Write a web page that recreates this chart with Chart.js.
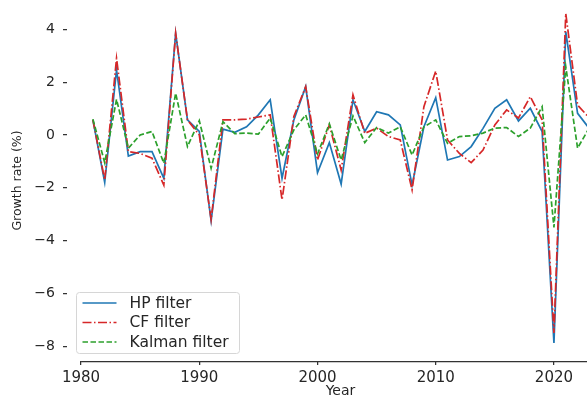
<!DOCTYPE html>
<html>
<head>
<meta charset="utf-8">
<script src="https://cdn.jsdelivr.net/npm/chart.js@4.4.1/dist/chart.umd.min.js"></script>
<style>
    html, body { margin: 0; padding: 0; background: #fff; }
    #wrap { width: 587px; height: 398px; overflow: hidden; }
</style>
</head>
<body>
<div id="wrap"><canvas id="filterChart" width="614" height="398"></canvas></div>
<script>
const years = [];
for (let y = 1981; y <= 2023; y++) years.push(y);

const hpFilter = [0.57, -1.80, 2.46, -0.80, -0.63, -0.63, -1.64, 3.85, 0.57, 0.13,
    -3.25, 0.22, 0.10, 0.31, 0.76, 1.33, -1.64, 0.57, 1.83, -1.43,
    -0.29, -1.86, 1.33, 0.13, 0.88, 0.76, 0.38, -1.90, 0.31, 1.41,
    -0.95, -0.82, -0.44, 0.25, 1.01, 1.33, 0.53, 1.01, 0.13, -7.88,
    3.91, 0.82, 0.24];

const cfFilter = [0.57, -1.70, 2.90, -0.63, -0.70, -0.88, -1.90, 3.85, 0.57, 0.00,
    -3.20, 0.57, 0.57, 0.60, 0.68, 0.76, -2.46, 0.70, 1.83, -0.95,
    0.38, -1.33, 1.52, 0.06, 0.26, -0.06, -0.19, -2.08, 1.07, 2.42,
    -0.19, -0.70, -1.05, -0.57, 0.38, 0.95, 0.64, 1.45, 0.57, -7.50,
    4.60, 1.13, 0.64];

const kalmanFilter = [0.60, -1.05, 1.35, -0.50, 0.00, 0.13, -1.07, 1.58, -0.44, 0.54,
    -1.26, 0.50, 0.05, 0.07, 0.03, 0.64, -0.82, 0.19, 0.76, -0.72,
    0.42, -0.95, 0.72, -0.29, 0.28, 0.07, 0.31, -0.76, 0.31, 0.57,
    -0.32, -0.06, -0.03, 0.07, 0.26, 0.28, -0.06, 0.26, 1.07, -3.50,
    2.59, -0.50, 0.28];

const xTicks = [1980, 1990, 2000, 2010, 2020];
const yTicks = [-8, -6, -4, -2, 0, 2, 4];

const textColor = "#262626";
const fontFamily = "'DejaVu Sans', sans-serif";

const toPoints = (vals) => vals.map((v, i) => ({ x: years[i], y: v }));

// bottom spine, starting at the first tick like the original
const spinePlugin = {
    id: "spine",
    afterDraw(chart) {
        const ctx = chart.ctx;
        const x = chart.scales.x;
        const y0 = chart.chartArea.bottom + 0.5;
        ctx.save();
        ctx.strokeStyle = "#333";
        ctx.lineWidth = 1.25;
        ctx.beginPath();
        ctx.moveTo(x.getPixelForValue(xTicks[0]), y0);
        ctx.lineTo(chart.chartArea.right, y0);
        ctx.stroke();
        ctx.restore();
    }
};

// matplotlib-like legend in the lower left corner
const legendPlugin = {
    id: "mplLegend",
    afterDraw(chart) {
        const ctx = chart.ctx;
        const area = chart.chartArea;
        const boxX = area.left + 9.5, boxW = 163, boxH = 61;
        const boxY = area.bottom - 7.5 - boxH;
        ctx.save();
        ctx.fillStyle = "rgba(255,255,255,0.85)";
        ctx.strokeStyle = "#d6d6d6";
        ctx.lineWidth = 1;
        ctx.beginPath();
        ctx.roundRect(boxX, boxY, boxW, boxH, 3);
        ctx.fill();
        ctx.stroke();
        ctx.font = "15.5px " + fontFamily;
        ctx.textBaseline = "middle";
        chart.data.datasets.forEach((ds, i) => {
            const rowY = boxY + 10.5 + i * 19.5;
            ctx.strokeStyle = ds.borderColor;
            ctx.lineWidth = 1.5;
            ctx.setLineDash(ds.borderDash || []);
            ctx.beginPath();
            ctx.moveTo(boxX + 6, rowY);
            ctx.lineTo(boxX + 40, rowY);
            ctx.stroke();
            ctx.setLineDash([]);
            ctx.fillStyle = textColor;
            ctx.fillText(ds.label, boxX + 53, rowY + 0.5);
        });
        ctx.restore();
    }
};

new Chart(document.getElementById("filterChart"), {
    type: "line",
    data: {
        datasets: [{
            label: "HP filter",
            data: toPoints(hpFilter),
            borderColor: "#1f77b4",
            borderWidth: 1.7,
            order: 2
        }, {
            label: "CF filter",
            data: toPoints(cfFilter),
            borderColor: "#d62728",
            borderWidth: 1.7,
            borderDash: [9, 2.5, 1.5, 2.5],
            order: 1
        }, {
            label: "Kalman filter",
            data: toPoints(kalmanFilter),
            borderColor: "#2ca02c",
            borderWidth: 1.7,
            borderDash: [5.5, 2.5],
            order: 0
        }]
    },
    options: {
        responsive: false,
        animation: false,
        events: [],
        layout: { padding: 0 },
        elements: {
            point: { radius: 0 },
            line: { tension: 0, fill: false }
        },
        plugins: {
            legend: { display: false },
            tooltip: { enabled: false }
        },
        scales: {
            x: {
                type: "linear",
                min: 1978.81,
                max: 2025.08,
                afterBuildTicks: (scale) => { scale.ticks = xTicks.map(v => ({ value: v })); },
                afterFit: (scale) => {
                    scale.height = 37;
                    scale.paddingLeft = 0;
                    scale.paddingRight = 0;
                },
                border: { display: false },
                grid: {
                    drawOnChartArea: false,
                    drawTicks: true,
                    tickLength: 4,
                    color: "#333",
                    lineWidth: 1.25
                },
                ticks: {
                    color: textColor,
                    font: { family: fontFamily, size: 15 },
                    padding: 4,
                    maxRotation: 0,
                    callback: (v) => String(v)
                },
                title: {
                    display: true,
                    text: "Year",
                    color: textColor,
                    font: { family: fontFamily, size: 14, lineHeight: 1 },
                    padding: 0
                }
            },
            y: {
                type: "linear",
                min: -8.56,
                max: 5.11,
                afterBuildTicks: (scale) => { scale.ticks = yTicks.map(v => ({ value: v })); },
                afterFit: (scale) => {
                    scale.width = 67;
                    scale.paddingTop = 0;
                    scale.paddingBottom = 0;
                },
                border: { display: false },
                grid: {
                    drawOnChartArea: false,
                    drawTicks: true,
                    tickLength: 4,
                    color: "#333",
                    lineWidth: 1.25
                },
                ticks: {
                    color: textColor,
                    font: { family: fontFamily, size: 14 },
                    padding: 8,
                    callback: (v) => v < 0 ? "\u2212" + Math.abs(v) : String(v)
                },
                title: {
                    display: true,
                    text: "Growth rate (%)",
                    color: textColor,
                    font: { family: fontFamily, size: 12.5 },
                    padding: { top: 10.5, bottom: 0 }
                }
            }
        }
    },
    plugins: [spinePlugin, legendPlugin]
});
</script>
</body>
</html>
